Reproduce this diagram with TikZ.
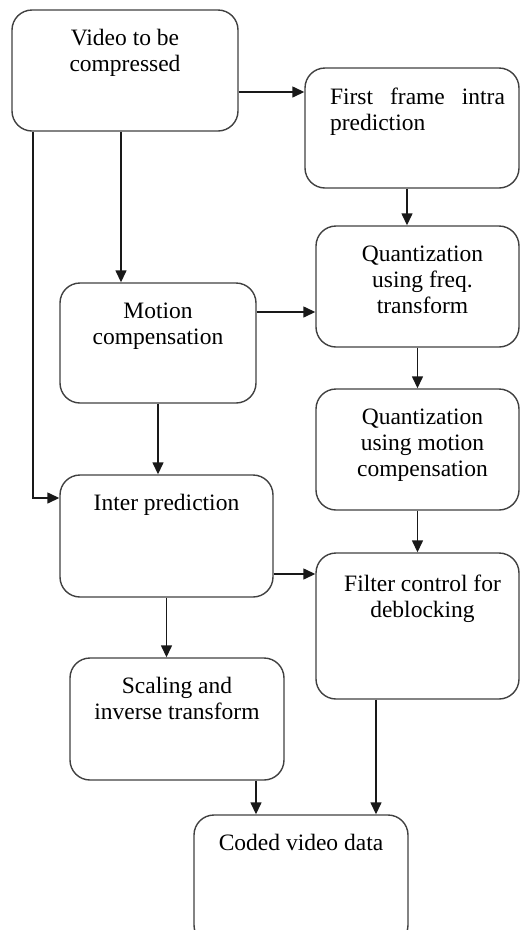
\documentclass[tikz,border=0pt]{standalone}
\usepackage{fontspec}
\setmainfont{Liberation Serif}
\usetikzlibrary{arrows.meta,calc}

\begin{document}
\begin{tikzpicture}
[x=1pt, y=-1pt,
stepnode/.style={rectangle, rounded corners=20pt, draw=black!75, line width=1.4pt, inner sep=0pt},
steptext/.style={font=\fontsize{23.5}{26}\selectfont, align=center, inner sep=0pt, anchor=north},
flowarrow/.style={line width=1.4pt, draw=black!90, -{Triangle[length=12pt,width=11pt]}},
]
\useasboundingbox (0,0) rectangle (521,930);
%left column
\node[stepnode, minimum width=226pt, minimum height=121pt](vid) at (125,70.5){};
\node[stepnode, minimum width=196pt, minimum height=120pt](motion) at (158,343){};
\node[stepnode, minimum width=213pt, minimum height=122pt](inter) at (166.5,536){};
\node[stepnode, minimum width=214pt, minimum height=122pt](scale) at (177,719){};
%right column
\node[stepnode, minimum width=214pt, minimum height=120pt](intra) at (412,128){};
\node[stepnode, minimum width=203pt, minimum height=121pt](qfreq) at (417.5,286.5){};
\node[stepnode, minimum width=203pt, minimum height=121pt](qmot) at (417.5,449.5){};
\node[stepnode, minimum width=203pt, minimum height=146pt](filter) at (417.5,626){};
%output
\node[stepnode, minimum width=214pt, minimum height=130pt](coded) at (301,880){};
%texts
\node[steptext](vidtxt) at ($(vid.north)+(0,20)$) {Video to be\\compressed};
\node[steptext](motiontxt) at ($(motion.north)+(0,20)$) {Motion\\compensation};
\node[steptext](intertxt) at ($(inter.north)+(0,20)$) {Inter prediction};
\node[steptext](scaletxt) at ($(scale.north)+(0,20)$) {Scaling and\\inverse transform};
\node[steptext, text width=175pt, align=left](intratxt) at ($(intra.north)+(5.5,20)$) {First\hfill frame\hfill intra\\prediction};
\node[steptext](qfreqtxt) at ($(qfreq.north)+(5,20)$) {Quantization\\using freq.\\transform};
\node[steptext](qmottxt) at ($(qmot.north)+(5,20)$) {Quantization\\using motion\\compensation};
\node[steptext](filtertxt) at ($(filter.north)+(5,22)$) {Filter control for\\deblocking};
\node[steptext](codedtxt) at ($(coded.north)+(0,20)$) {Coded video data};
%draw line
\draw[flowarrow] ([yshift=-21.5pt]vid.east) -- ([yshift=-21.5pt]vid.east -| intra.west);
\draw[flowarrow] ([xshift=-4pt]vid.south) -- ([xshift=-4pt]vid.south |- motion.north);
\draw[flowarrow] ([xshift=-92pt]vid.south) |- ([yshift=38pt]inter.west);
\draw[flowarrow] ([xshift=-5pt]intra.south) -- ([xshift=-5pt]intra.south |- qfreq.north);
\draw[flowarrow] ([yshift=31pt]motion.east) -- ([yshift=31pt]motion.east -| qfreq.west);
\draw[flowarrow] (qfreq.south) -- (qmot.north);
\draw[flowarrow] (motion.south) -- (motion.south |- inter.north);
\draw[flowarrow] ([yshift=-38pt]inter.east) -- ([yshift=-38pt]inter.east -| filter.west);
\draw[flowarrow] (qmot.south) -- (filter.north);
\draw[flowarrow] (inter.south) -- (inter.south |- scale.north);
\draw[flowarrow] ([xshift=79pt]scale.south) -- ([xshift=79pt]scale.south |- coded.north);
\draw[flowarrow] ([xshift=-41.5pt]filter.south) -- ([xshift=-41.5pt]filter.south |- coded.north);
\end{tikzpicture}
\end{document}
